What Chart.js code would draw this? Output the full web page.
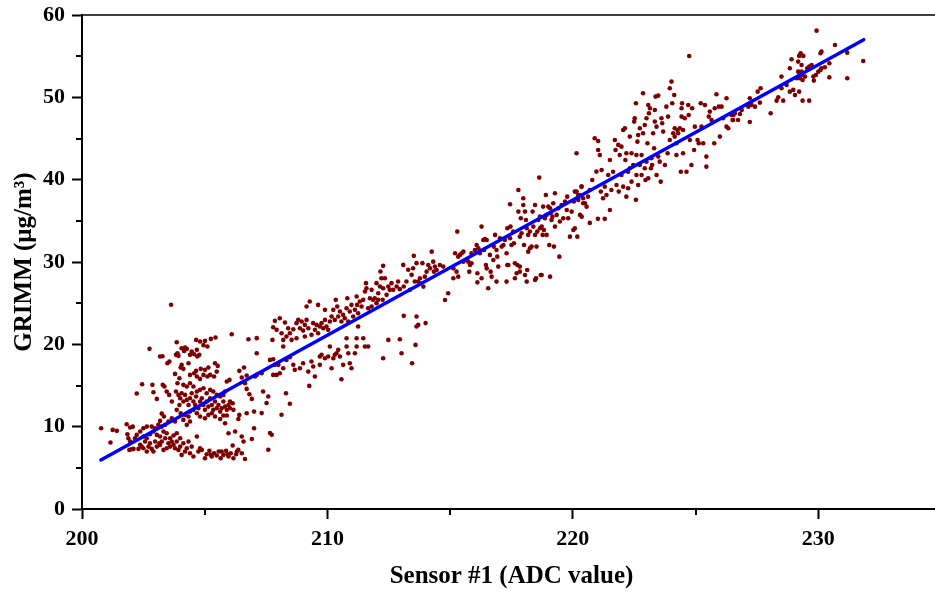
<!DOCTYPE html>
<html>
<head>
<meta charset="utf-8">
<script src="https://cdn.jsdelivr.net/npm/chart.js@4.4.0/dist/chart.umd.min.js"></script>
<style>
html,body{margin:0;padding:0;background:#fff;overflow:hidden;width:935px;height:594px;}
canvas{display:block;}
</style>
</head>
<body>
<canvas id="c" width="950" height="594"></canvas>
<script>
// Sensor #1 ADC reading vs. GRIMM reference concentration, [adc, µg/m³]
const readings201to207 = [
  [203.63,24.8],[202.75,19.45],[203.86,20.26],[204.65,20.54],[204.81,20.34],[205.01,20.42],[204.95,19.9],[205.11,19.73],
  [205.25,20.66],[205.44,20.83],[206.10,21.23],[206.78,20.62],[207.12,20.75],[207.12,18.92],
  [204.06,19.53],[204.2,19.61],[204.16,19.2],[204.27,19.45],[203.89,18.92],[203.93,18.6],[203.83,18.72],
  [204.47,19.12],[204.4,18.72],[204.57,18.8],[204.68,19.33],[204.78,18.72],[204.7,18.52],
  [203.18,18.52],[203.28,18.56],[203.48,17.71],[203.56,17.91],
  [204.06,17.5],[204.02,17.18],[204.34,17.71],[204.13,17.02],
  [204.65,16.78],[204.84,17.02],[205.01,16.9],[205.15,17.18],[205.22,16.29],[205.11,16.09],[204.95,16.29],
  [205.42,17.71],[205.53,17.38],[205.49,16.69],[205.38,16.09],
  [205.9,15.48],[206.01,15.68],[206.41,16.78],[206.6,17.18],[206.51,15.97],[206.71,16.21],[207.05,16.09],[207.12,16.29],
  [206.64,15.28],[206.71,14.59],[206.82,13.94],[206.92,13.37],
  [204.4,16.29],[204.57,16.49],[204.68,16.09],[204.81,15.8],
  [203.79,16.41],[203.97,15.88],[203.89,15.28],
  [202.87,15.08],[203.29,15.08],[203.36,14.87],[202.45,15.16],[202.23,14.02],[202.91,14.18],[203.05,13.37],
  [203.45,14.27],[203.55,13.86],[203.66,13.05],[203.25,11.59],[203.34,11.23],
  [203.83,14.27],[203.93,13.86],[204.0,13.45],[204.06,14.06],[204.13,13.05],[203.97,12.64],[204.2,13.86],[204.27,13.25],
  [204.34,12.64],[204.4,13.45],[204.47,14.06],[204.54,13.05],[204.61,12.64],[204.65,13.66],[204.74,12.24],[204.81,13.05],
  [204.88,13.45],[204.95,12.64],[205.01,12.04],[205.08,13.05],[205.15,12.44],[205.22,13.45],[205.29,12.64],[205.35,12.04],
  [205.42,13.05],[205.49,12.24],[205.56,12.64],[205.63,11.83],[205.69,12.24],[205.76,13.05],[205.83,12.44],[205.9,12.04],
  [205.97,12.64],[206.03,12.24],[206.14,12.85],[203.86,12.04],[204.02,11.63],[204.2,11.43],[204.34,11.23],[204.4,11.83],
  [204.54,12.04],[204.68,11.63],[204.81,11.23],[205.01,11.02],[205.15,11.43],[205.29,11.63],[205.42,11.23],[205.63,10.94],
  [205.76,11.35],[205.83,10.42],[205.97,9.2],[206.24,9.41],[206.51,8.8],[206.58,8.19],[206.92,8.51],[207.01,9.81],
  [207.01,11.83],[206.71,11.63],[206.37,10.94],[206.41,11.43],[206.17,12.04],[205.9,11.35],
  [204.13,15.08],[204.27,14.87],[204.4,15.28],[204.54,14.87],[204.68,14.27],[204.81,14.47],[204.95,14.67],[205.08,14.06],
  [205.22,14.47],[205.35,14.27],[205.49,13.86],[205.63,13.66],[205.76,13.86],[205.83,14.27],[206.03,13.05],
  [204.4,10.62],[204.27,10.22],[204.13,10.82],[203.79,10.62],[203.66,11.02],[203.52,10.62],[203.39,10.22],[203.18,10.7],[203.25,10.01]
];

const readingsLowBand = [
  [200.78,9.81],[201.16,8.07],[201.25,9.61],[201.42,9.49],
  [201.82,10.3],[201.96,9.9],[202.07,10.0],[201.85,9.08],[201.89,8.6],[201.96,8.19],[202.03,7.26],[201.93,7.18],
  [202.1,7.3],[202.16,8.6],[202.23,9.0],[202.3,7.3],[202.37,9.41],[202.37,7.79],[202.43,7.58],[202.5,9.81],
  [202.5,8.8],[202.5,7.38],[202.57,8.19],[202.64,10.01],[202.64,8.6],[202.64,6.98],[202.71,7.58],[202.77,9.08],
  [202.77,7.99],[202.84,10.01],[202.84,7.3],[202.91,9.41],[202.91,6.98],[202.98,9.81],[202.98,8.19],[203.05,9.0],
  [203.05,7.58],[203.11,10.22],[203.15,7.99],[203.18,8.8],[203.18,7.79],[203.25,8.19],[203.32,9.41],[203.32,7.18],
  [203.39,8.6],[203.45,9.2],[203.45,7.38],[203.52,7.99],[203.59,8.6],[203.59,7.58],[203.66,8.19],[203.73,8.92],
  [203.73,7.79],[203.79,7.38],[203.86,9.2],[203.86,8.19],[203.93,7.18],[204.0,8.6],[204.0,7.58],[204.06,6.57],
  [204.13,7.99],[204.2,6.98],[204.27,7.38],[204.34,8.19],[204.4,6.77],[204.47,7.58],[204.54,6.37],[204.68,8.8],[204.81,7.38],
  [204.74,6.98],[204.88,7.18],[205.01,6.17],[205.08,6.65],[205.19,7.06],[205.29,6.37],[205.38,6.77],[205.49,6.49],
  [205.57,6.98],[205.65,6.17],[205.76,6.57],[205.87,7.06],[205.97,6.37],[206.06,6.77],[206.17,6.17],[206.28,6.65],
  [206.37,7.18],[206.51,6.77],[206.64,6.08],[206.14,7.71],[206.31,6.98],[205.69,6.98],[205.25,6.57],[205.93,6.65],
  [207.52,12.87],[208.13,11.45],[208.47,12.78],[207.32,11.65],[207.66,9.23],[207.73,9.02],[207.59,7.2]
];

const readings207to214 = [
  [207.59,13.66],[207.32,16.49],[207.38,14.27],
  [207.86,22.85],[208.06,23.17],[207.79,22.08],[207.76,20.54],[207.93,21.76],[208.13,21.35],[208.2,20.54],[208.2,19.73],
  [208.27,22.65],[208.33,20.95],[208.4,21.96],[208.47,21.35],[208.54,20.54],[208.61,21.84],[208.74,22.57],[208.74,20.74],
  [208.81,22.97],[208.88,21.96],[208.95,22.77],[209.01,21.67],[209.08,22.36],[209.08,20.95],[209.15,24.59],[209.15,22.97],
  [209.22,21.96],[209.28,25.2],[209.35,21.15],[209.42,22.57],[209.49,21.76],[209.56,22.36],[209.62,24.79],[209.62,21.35],
  [209.69,22.16],[209.76,22.57],[209.83,21.96],[209.9,24.19],[209.9,22.97],[209.96,22.16],[210.03,21.76],[210.1,22.77],
  [210.17,23.38],[210.24,24.19],[210.3,22.97],[210.34,25.4],[210.4,24.59],[210.44,23.38],[210.51,23.98],[210.57,22.77],
  [210.64,23.58],[210.71,23.17],[210.78,24.39],[210.81,25.6],[210.85,22.77],[210.91,23.98],[210.98,24.79],[211.05,23.38],
  [211.12,24.19],[211.19,25.81],[211.21,24.79],[211.25,23.78],[211.32,25.2],[211.39,24.59],[211.46,25.4],[211.53,26.41],
  [211.57,27.43],[211.59,26.82],[211.66,24.39],[211.8,24.59],[211.86,25.4],[211.93,25.6],[212.0,25.0],[212.07,26.21],
  [212.0,27.43],[212.14,27.02],[212.16,28.84],[212.2,28.03],[212.27,26.82],[212.27,29.53],[212.34,28.03],[212.41,26.01],
  [212.48,27.02],[212.54,26.62],[212.61,27.43],[212.68,26.62],[212.82,27.02],[212.88,27.63],[212.95,26.7],[213.09,29.65],
  [213.11,27.02],[213.22,27.63],[213.29,29.05],[213.36,26.62],[213.43,28.44],[213.49,29.25],[213.52,30.75],[213.56,27.63],
  [213.63,29.86],[213.7,27.63],[213.77,28.03],[213.87,29.86],[212.07,25.4],[211.8,26.62],[211.73,25.6],[212.25,25.4],
  [208.61,17.51],[208.67,16.9],[208.88,17.1],[209.01,17.71],[209.22,16.69],[209.35,17.91],[209.42,17.3],[209.49,16.09],
  [209.69,17.51],[209.69,18.52],[209.76,18.72],[209.9,18.31],[210.03,18.52],[210.1,19.73],[210.17,17.1],[210.24,18.31],
  [210.3,18.72],[210.37,18.92],[210.44,19.33],[210.51,18.52],[210.57,15.76],[210.64,17.51],[210.78,20.74],[210.78,19.73],
  [210.85,18.92],[210.91,17.71],[210.98,17.1],[211.12,18.92],[211.19,20.74],[211.19,19.73],[211.25,22.16],[211.46,20.74],
  [211.53,19.73],[211.66,19.73],[212.27,18.31],[212.48,20.54],[212.95,20.62],[213.02,18.92],[213.11,23.46],[213.45,17.71],
  [213.59,19.93],[213.63,22.16],[213.63,23.38],[213.7,22.36],[208.31,14.06],[209.26,14.95],[207.93,16.29],[208.06,16.49],
  [207.79,16.29],[208.0,17.51],[208.2,17.1],[208.33,18.11],[208.47,18.44],[207.79,18.19],[207.86,17.51],[207.66,18.11]
];

const readings214to220 = [
  [214.0,22.58],
  [213.77,27.41],[213.91,27.01],[213.97,28.22],[214.04,28.83],[214.11,29.64],[214.18,29.23],[214.25,31.26],[214.31,30.04],
  [214.34,28.83],[214.38,29.44],[214.45,29.03],[214.58,29.64],[214.72,29.44],[214.79,25.39],[214.92,26.2],[215.13,29.23],
  [215.2,31.06],[215.29,33.69],[215.33,30.65],[215.4,30.86],[215.47,31.06],[215.54,31.26],[215.33,28.22],[215.67,30.25],
  [215.74,30.04],[215.81,29.64],[215.87,29.84],[216.01,31.46],[216.08,32.07],[216.11,28.63],[216.11,27.53],[216.15,31.67],
  [216.21,31.06],[216.28,34.3],[216.35,32.68],[216.38,31.46],[216.42,32.8],[216.49,32.68],[216.49,29.23],[216.55,26.81],
  [216.62,30.86],[216.65,28.83],[216.76,30.25],[216.78,31.87],[216.83,33.29],[216.89,31.46],[216.92,30.65],[216.96,29.44],
  [217.03,32.88],[217.1,31.87],[217.17,32.07],[217.23,32.68],[217.3,31.06],[217.33,34.1],[217.37,29.64],[217.44,32.88],
  [217.44,37.01],[217.46,34.3],[217.5,32.07],[217.57,33.69],[217.6,32.27],[217.64,29.84],[217.71,28.63],[217.74,29.64],
  [217.78,36.12],[217.78,38.75],[217.84,33.08],[217.84,29.44],[217.88,35.31],[217.91,33.49],[217.98,37.74],[217.98,36.93],
  [218.01,32.07],[218.05,36.12],[218.09,35.11],[218.12,34.1],[218.14,29.03],[218.18,33.29],[218.18,31.26],[218.25,33.69],
  [218.25,31.67],[218.32,31.87],[218.36,36.12],[218.39,34.3],[218.46,36.93],[218.46,33.29],[218.5,28.02],[218.52,31.87],
  [218.55,33.69],[218.59,35.11],[218.63,40.25],[218.66,34.1],[218.66,35.51],[218.69,28.43],[218.73,34.3],[218.77,33.29],
  [218.79,36.73],[218.82,33.89],[218.86,35.31],[218.9,38.14],[218.93,33.29],[218.93,35.72],[219.0,36.73],[219.04,32.07],
  [219.07,36.53],[219.09,35.92],[219.13,35.11],[219.17,35.51],[219.2,37.13],[219.23,31.87],[219.27,38.35],[219.27,34.3],
  [219.34,35.72],[219.41,36.53],[219.45,30.65],[219.47,34.91],[219.54,36.93],[219.61,35.31],[219.68,37.34],[219.75,36.32],
  [219.77,37.94],[219.81,35.31],[219.88,33.08],[219.95,36.12],[220.02,33.89],[220.04,37.34],[220.08,34.1],[220.15,38.55],
  [220.18,33.08],[220.22,37.54],[220.29,35.72],[220.36,35.51],[220.36,39.16],[220.42,37.13],[220.29,38.14],
  [215.13,28.02],[215.26,28.83],[215.54,30.04],[215.87,31.06],[215.78,28.83],[216.28,28.02],[216.46,29.64],[216.69,28.22],
  [216.89,27.62],[217.33,29.64],[217.3,27.62],[217.64,28.02],[217.84,28.83],[218.05,28.43],[218.12,27.62],[218.46,27.82],
  [218.73,28.43],[219.07,28.22],[220.69,34.75]
];

const readings220to227 = [
  [224.74,55.02],[222.57,37.55],[221.02,35.24],[221.3,35.24],
  [220.15,43.2],[220.08,38.55],[220.35,39.15],[220.22,38.14],[220.42,37.74],[220.49,37.13],[220.56,36.72],[220.62,37.94],
  [220.69,38.75],[220.79,39.96],[220.89,45.03],[220.96,40.98],[221.03,43.61],[221.03,44.7],[221.1,43.0],[221.14,38.55],
  [221.17,41.18],[221.23,37.74],[221.3,39.15],[221.37,38.14],[221.44,40.57],[221.51,36.32],[221.51,42.39],[221.57,38.75],
  [221.64,40.97],[221.71,44.82],[221.74,43.61],[221.78,39.36],[221.85,44.22],[221.87,38.55],[221.91,43.0],[221.98,44.01],
  [221.98,40.57],[222.05,46.04],[222.05,39.15],[222.12,46.24],[222.14,42.39],[222.18,43.2],[222.18,37.94],[222.25,40.97],
  [222.25,38.95],[222.32,45.23],[222.32,41.38],[222.39,43.2],[222.39,39.76],[222.46,41.79],[222.5,47.05],[222.52,47.46],
  [222.57,49.28],[222.59,43.0],[222.59,40.57],[222.63,44.62],[222.66,45.43],[222.66,39.36],[222.73,46.24],[222.73,41.79],
  [222.8,43.0],[222.8,40.57],[222.86,50.49],[222.86,45.63],[222.93,46.64],[222.93,41.38],[222.96,39.96],[223.0,47.46],
  [223.0,42.19],[223.04,44.42],[223.07,49.07],[223.07,40.17],[223.1,48.06],[223.14,48.67],[223.18,41.38],[223.2,42.6],
  [223.23,41.79],[223.27,45.63],[223.31,43.81],[223.34,48.47],[223.34,47.05],[223.37,50.09],[223.41,46.44],[223.41,40.57],
  [223.48,50.21],[223.48,42.8],[223.54,42.19],[223.58,39.76],[223.61,47.46],[223.64,46.85],[223.68,45.84],[223.75,41.79],
  [223.81,48.87],[223.86,43.2],[223.88,47.66],[223.95,51.1],[223.95,44.82],[224.02,51.91],[224.05,49.28],[224.09,45.63],
  [224.13,50.29],[224.15,46.24],[224.15,45.23],[224.22,44.42],[224.22,43.0],[224.26,46.04],[224.29,45.63],[224.36,46.24],
  [224.4,40.97],[224.43,48.67],[224.43,47.66],[224.45,49.28],[224.49,43.2],[224.49,46.04],[224.56,47.46],[224.63,40.97],
  [224.7,49.07],[224.72,47.86],[224.77,44.82],[224.83,41.79],[224.86,48.67],[224.94,43.61],[224.97,46.44],[225.08,44.82],
  [225.13,44.42],[225.21,49.28],[225.24,46.44],[225.31,44.42],[225.38,49.07],[225.44,42.8],[225.44,41.58],[225.54,47.66],
  [225.58,48.27],[225.65,47.25],[225.76,44.42],[225.78,48.67],[225.85,50.37],[225.95,48.87],[225.99,45.23],[226.06,48.87],
  [226.12,47.46],[226.26,49.88],[226.26,46.44],[226.33,46.24],[226.46,47.86],[226.53,47.25],[226.6,48.06],[226.73,47.25]
];

const readings227to232 = [
  [229.93,58.1],[231.83,54.42],[230.68,56.36],[231.18,55.43],[231.18,52.31],[230.13,55.55],[230.09,55.35],
  [229.28,55.35],[229.22,55.03],[229.39,55.03],[228.91,54.62],[229.18,54.34],[229.32,53.93],[229.73,53.93],[229.63,53.73],
  [229.55,53.53],[228.84,53.53],[229.18,53.12],[229.28,52.92],[229.36,52.72],[229.25,52.31],[229.46,52.52],[229.36,52.11],
  [229.12,52.31],[229.32,53.12],[229.8,52.52],[229.82,52.03],[229.9,52.72],[230.0,53.12],[230.09,53.33],[230.13,53.53],
  [230.27,53.65],[230.45,54.14],[230.45,52.43],[228.5,52.52],[228.71,51.5],[228.5,51.1],[228.84,50.69],[228.98,50.9],
  [229.05,50.29],[229.22,50.69],[229.36,49.6],[229.63,49.6],[228.3,49.6],[228.37,50.0],[228.57,49.6],[227.65,51.1],
  [227.53,50.69],[227.21,49.88],[227.62,49.36],[227.42,48.87],[227.28,49.07],[227.15,48.87],[226.88,48.47],[226.81,47.98],
  [226.54,47.86],[226.51,47.25],[228.06,48.06],[227.21,47.01]
];

// Least-squares fit line, end points
const fitAdc = [200.77, 231.85];
const fitGrimm = [5.95, 57.0];

const xTickValues = [200, 210, 220, 230];
const xMinorValues = [205, 215, 225, 235];
const yTickValues = [0, 10, 20, 30, 40, 50, 60];
const yMinorValues = [5, 15, 25, 35, 45, 55];

const SERIF = "'Times New Roman', 'Liberation Serif', serif";

const allReadings = [].concat(readingsLowBand, readings201to207, readings207to214,
  readings214to220, readings220to227, readings227to232);

// closes the plot box and adds short minor ticks
const boxAndMinorTicks = {
  id: 'boxAndMinorTicks',
  afterDraw(chart) {
    const {ctx, chartArea: a, scales: {x, y}} = chart;
    ctx.save();
    ctx.strokeStyle = '#000';
    ctx.lineWidth = 1.5;
    ctx.beginPath();
    ctx.moveTo(a.left, a.top);
    ctx.lineTo(a.right, a.top);
    ctx.lineTo(a.right, a.bottom);
    ctx.stroke();
    ctx.lineWidth = 2;
    ctx.beginPath();
    xMinorValues.forEach(v => {
      const px = Math.round(x.getPixelForValue(v));
      ctx.moveTo(px, a.bottom);
      ctx.lineTo(px, a.bottom + 6);
    });
    yMinorValues.forEach(v => {
      const py = Math.round(y.getPixelForValue(v));
      ctx.moveTo(a.left, py);
      ctx.lineTo(a.left - 6, py);
    });
    ctx.stroke();
    ctx.restore();
  }
};

new Chart(document.getElementById('c'), {
  type: 'scatter',
  data: {
    datasets: [
      {
        data: fitAdc.map((v, i) => ({x: v, y: fitGrimm[i]})),
        showLine: true,
        borderColor: '#0000ff',
        borderWidth: 3.5,
        borderCapStyle: 'round',
        pointRadius: 0,
        order: 0
      },
      {
        data: allReadings.map(p => ({x: p[0], y: p[1]})),
        backgroundColor: '#800000',
        borderWidth: 0,
        pointRadius: 2.3,
        order: 1
      }
    ]
  },
  options: {
    responsive: false,
    animation: false,
    layout: {padding: {top: 15, right: 9, left: 0, bottom: 0}},
    plugins: {legend: {display: false}, tooltip: {enabled: false}},
    scales: {
      x: {
        type: 'linear',
        min: 200,
        max: 235,
        afterBuildTicks: s => { s.ticks = xTickValues.map(v => ({value: v})); },
        afterFit: s => { s.height = 85; s.paddingLeft = 0; s.paddingRight = 0; },
        border: {display: true, color: '#000', width: 2},
        grid: {display: true, drawOnChartArea: false, drawTicks: true, tickLength: 10, tickWidth: 2, tickColor: '#000'},
        ticks: {color: '#000', padding: 7, maxRotation: 0, autoSkip: false,
                font: {family: SERIF, size: 22, weight: 'bold'}},
        title: {display: true, text: 'Sensor #1 (ADC value)', color: '#000',
                font: {family: SERIF, size: 25, weight: 'bold'}, padding: {top: 0, bottom: 2}}
      },
      y: {
        type: 'linear',
        min: 0,
        max: 60,
        afterBuildTicks: s => { s.ticks = yTickValues.map(v => ({value: v})); },
        afterFit: s => { s.width = 82; s.paddingTop = 0; s.paddingBottom = 0; },
        border: {display: true, color: '#000', width: 2},
        grid: {display: true, drawOnChartArea: false, drawTicks: true, tickLength: 10, tickWidth: 2, tickColor: '#000'},
        ticks: {color: '#000', padding: 7, autoSkip: false,
                font: {family: SERIF, size: 22, weight: 'bold'}},
        title: {display: true, text: 'GRIMM (μg/m³)', color: '#000',
                font: {family: SERIF, size: 25, weight: 'bold'}, padding: {top: 10, bottom: 0}}
      }
    }
  },
  plugins: [boxAndMinorTicks]
});
</script>
</body>
</html>
